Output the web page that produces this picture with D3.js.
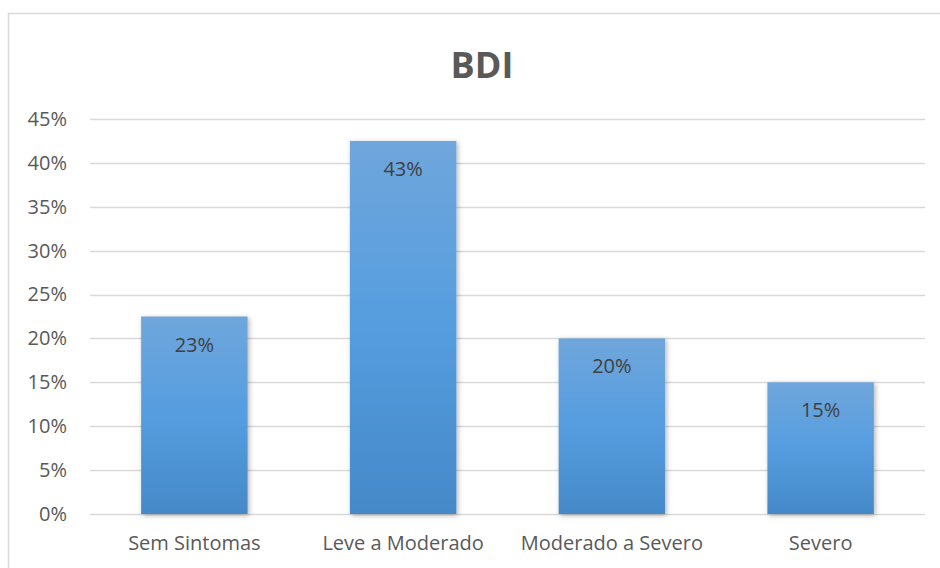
<!DOCTYPE html>
<html>
<head>
<meta charset="utf-8">
<script src="https://cdn.jsdelivr.net/npm/d3@7"></script>
<style>
  body { margin: 0; background: #fff; }
  svg { display: block; font-family: "Open Sans", sans-serif; }
</style>
</head>
<body>
<div id="chart"></div>
<script>
// chart data
const categories = ["Sem Sintomas", "Leve a Moderado", "Moderado a Severo", "Severo"];
const values = [0.225, 0.425, 0.20, 0.15];
const valueLabels = ["23%", "43%", "20%", "15%"];
const yTicks = [0, 0.05, 0.10, 0.15, 0.20, 0.25, 0.30, 0.35, 0.40, 0.45];
const title = "BDI";

const W = 940, H = 568;
const margin = { top: 119, right: 15, bottom: 54, left: 90 };
const width = W - margin.left - margin.right;
const height = H - margin.top - margin.bottom;

const svg = d3.select("#chart").append("svg")
  .attr("width", W)
  .attr("height", H);

const defs = svg.append("defs");
const grad = defs.append("linearGradient")
  .attr("id", "barGrad")
  .attr("x1", 0).attr("y1", 0).attr("x2", 0).attr("y2", 1);
grad.append("stop").attr("offset", "0%").attr("stop-color", "#6fa6dc");
grad.append("stop").attr("offset", "50%").attr("stop-color", "#559ddf");
grad.append("stop").attr("offset", "100%").attr("stop-color", "#4589c9");

const shadow = defs.append("filter").attr("id", "shadow")
  .attr("x", "-20%").attr("y", "-10%").attr("width", "140%").attr("height", "120%");
shadow.append("feDropShadow")
  .attr("dx", 1.5).attr("dy", 1.5).attr("stdDeviation", 2.5)
  .attr("flood-color", "#000").attr("flood-opacity", 0.3);

// outer frame
svg.append("rect")
  .attr("x", 8.5).attr("y", 13.5)
  .attr("width", W).attr("height", H)
  .attr("fill", "none")
  .attr("stroke", "#d9d9d9")
  .attr("stroke-width", 1.5);

svg.append("text")
  .attr("x", 482).attr("y", 78)
  .attr("text-anchor", "middle")
  .attr("font-size", 36)
  .attr("font-weight", "bold")
  .attr("fill", "#595959")
  .text(title);

const g = svg.append("g").attr("transform", `translate(${margin.left},${margin.top})`);

const x = d3.scaleBand().domain(categories).range([0, width]).paddingInner(0.49).paddingOuter(0.245);
const y = d3.scaleLinear().domain([0, 0.45]).range([height, 0]);

// gridlines
g.append("g")
  .selectAll("line")
  .data(yTicks)
  .join("line")
  .attr("x1", 0).attr("x2", width)
  .attr("y1", d => Math.round(y(d)) + 0.5)
  .attr("y2", d => Math.round(y(d)) + 0.5)
  .attr("stroke", "#d9d9d9")
  .attr("stroke-width", 1.5);

// y axis labels
const yAxis = g.append("g")
  .call(d3.axisLeft(y).tickValues(yTicks).tickFormat(d3.format(".0%")).tickSize(0).tickPadding(23));
yAxis.select(".domain").remove();
yAxis.selectAll("text")
  .attr("font-family", "Open Sans, sans-serif")
  .attr("font-size", 20)
  .attr("fill", "#595959");

// bars
g.append("g")
  .selectAll("rect")
  .data(values)
  .join("rect")
  .attr("x", (d, i) => x(categories[i]))
  .attr("y", d => y(d))
  .attr("width", x.bandwidth())
  .attr("height", d => height - y(d))
  .attr("fill", "url(#barGrad)")
  .attr("filter", "url(#shadow)");

// value labels
g.append("g")
  .selectAll("text")
  .data(values)
  .join("text")
  .attr("x", (d, i) => x(categories[i]) + x.bandwidth() / 2)
  .attr("y", d => y(d) + 35)
  .attr("text-anchor", "middle")
  .attr("font-size", 20)
  .attr("fill", "#404040")
  .text((d, i) => valueLabels[i]);

// x axis labels
const xAxis = g.append("g")
  .attr("transform", `translate(0,${height})`)
  .call(d3.axisBottom(x).tickSize(0).tickPadding(22));
xAxis.select(".domain").remove();
xAxis.selectAll("text")
  .attr("font-family", "Open Sans, sans-serif")
  .attr("font-size", 20)
  .attr("fill", "#595959");
</script>
</body>
</html>
